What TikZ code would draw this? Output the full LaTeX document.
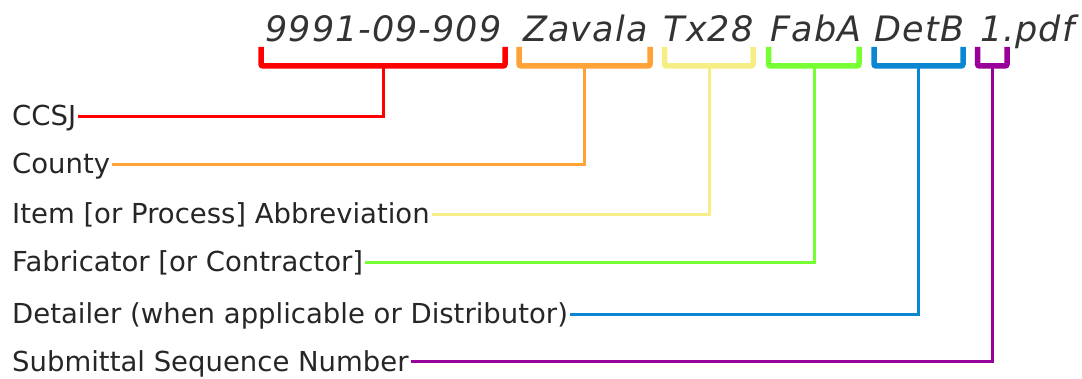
\documentclass[tikz,border=0pt]{standalone}
\usepackage{fontspec}
\setmainfont{DejaVu Sans}
\definecolor{cRed}{HTML}{FF0000}
\definecolor{cOrange}{HTML}{FFA238}
\definecolor{cYellow}{HTML}{F6EE84}
\definecolor{cGreen}{HTML}{77FF33}
\definecolor{cBlue}{HTML}{0A86D2}
\definecolor{cPurple}{HTML}{990099}
\tikzset{
  part/.style={font=\fontsize{35}{40}\selectfont\itshape\addfontfeatures{LetterSpace=3}, text=black!80, inner sep=0pt, anchor=base},
  lbl/.style={font=\fontsize{27.5}{30}\selectfont, text=black!85, anchor=west, inner xsep=2pt, inner ysep=0pt, text height=18pt, text depth=0pt},
  brace/.style={line width=5.5pt, rounded corners=2pt},
  conn/.style={line width=3pt}
}
\begin{document}
\begin{tikzpicture}[x=1pt,y=1pt]
\useasboundingbox (0,0) rectangle (1082,-379);
% file name parts
\node[part] (p1) at (383.5,-42) {9991-09-909};
\node[part] (p2) at (585.5,-42) {Zavala};
\node[part] (p3) at (708.5,-42) {Tx28};
\node[part] (p4) at (816,-42) {FabA};
\node[part] (p5) at (919.5,-42) {DetB};
\node[part, anchor=base west] (p6) at (980,-42) {1.pdf};
% labels
\node[lbl] (l1) at (10,-117) {CCSJ};
\node[lbl] (l2) at (10,-165) {County};
\node[lbl] (l3) at (10,-215) {Item [or Process] Abbreviation};
\node[lbl] (l4) at (10,-263) {Fabricator [or Contractor]};
\node[lbl] (l5) at (10,-315) {Detailer (when applicable or Distributor)};
\node[lbl] (l6) at (10,-362) {Submittal Sequence Number};
% stem coordinates
\coordinate (s1) at (383,-66);
\coordinate (s2) at (584.5,-66);
\coordinate (s3) at (709,-66);
\coordinate (s4) at (814,-66);
\coordinate (s5) at (918.5,-66);
\coordinate (s6) at (992.5,-66);
% brackets
\draw[brace, cRed] (261,-47) -- (261,-66) -- (505,-66) -- (505,-47);
\draw[brace, cOrange] (519,-47) -- (519,-66) -- (650,-66) -- (650,-47);
\draw[brace, cYellow] (664.5,-47) -- (664.5,-66) -- (753,-66) -- (753,-47);
\draw[brace, cGreen] (768.5,-47) -- (768.5,-66) -- (859,-66) -- (859,-47);
\draw[brace, cBlue] (874,-47) -- (874,-66) -- (963,-66) -- (963,-47);
\draw[brace, cPurple] (977.5,-47) -- (977.5,-66) -- (1007,-66) -- (1007,-47);
% connectors
\draw[conn, cRed] (l1.east) -| (s1);
\draw[conn, cOrange] (l2.east) -| (s2);
\draw[conn, cYellow] (l3.east) -| (s3);
\draw[conn, cGreen] (l4.east) -| (s4);
\draw[conn, cBlue] (l5.east) -| (s5);
\draw[conn, cPurple] (l6.east) -| (s6);
\end{tikzpicture}
\end{document}
